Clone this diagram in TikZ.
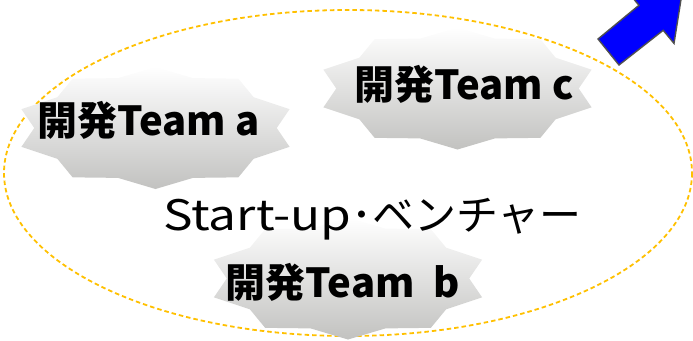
\documentclass[tikz,border=0pt]{standalone}
\usepackage{fontspec}
\newfontfamily\jp{Noto Sans CJK JP}
\newfontfamily\jpwide{Noto Sans CJK JP}[FakeStretch=1.18]
\usetikzlibrary{backgrounds}
\definecolor{dashorange}{RGB}{255,192,0}
\definecolor{burstgray}{RGB}{194,194,192}
\definecolor{arrowblue}{RGB}{0,0,255}
\definecolor{arrowedge}{RGB}{80,80,80}
\tikzset{
  teamlabel/.style={anchor=base, inner sep=0pt, font=\jp\bfseries\fontsize{40}{44}\selectfont},
  titlelabel/.style={anchor=base, inner sep=0pt, font=\jp\fontsize{42}{46}\selectfont},
  burstfill/.style={top color=white, bottom color=burstgray, draw=none},
  groupring/.style={draw=dashorange, line width=1.8pt, dash pattern=on 4.5pt off 3pt},
  bigarrow/.style={fill=arrowblue, draw=arrowedge, line width=1.4pt, line join=miter}
}
\newcommand\drawburst[1]{%
  \path[burstfill, shift={(#1)}] plot[variable=\k, samples at={0,...,19}]
    ({ifthenelse(mod(\k,2)==0,1,0.86)*141*cos(90+18*\k)},
     {ifthenelse(mod(\k,2)==0,1,0.86)*61*sin(90+18*\k)}) -- cycle;}
\begin{document}
\begin{tikzpicture}[x=1pt, y=-1pt]
\useasboundingbox (0,0) rectangle (693,340);
% group ring
\coordinate (ringc) at (348,173);
\draw[groupring] (ringc) ellipse [x radius=344, y radius=163];
% burst centres
\coordinate (ba) at (155.5,128);
\coordinate (bc) at (457.5,88.5);
\coordinate (bb) at (348,278.5);
\begin{scope}
\clip (0,0) rectangle (693,340);
\drawburst{ba}
\drawburst{bc}
\drawburst{bb}
% arrow (cut off at the top)
\coordinate (aA) at (598,39);
\coordinate (aB) at (619,65);
\path[bigarrow] (aA) -- ++(40.9,-33.7) -- ++(-10.8,-13.1) -- ++(56.5,-15.2)
  -- ++(-10.6,66.4) -- ++(-10.8,-13.1) -- (aB) -- cycle;
\end{scope}
% labels
\node[teamlabel] (ta) at (148.5,135) {開発Team a};
\node[teamlabel] (tc) at (464,99) {開発Team c};
\node[teamlabel] (tb) at (342.5,297) {開発Team\ \ b};
\node[titlelabel] (title) at (372.5,230) {{\jpwide Start-up}･ベンチャー};
\end{tikzpicture}
\end{document}
